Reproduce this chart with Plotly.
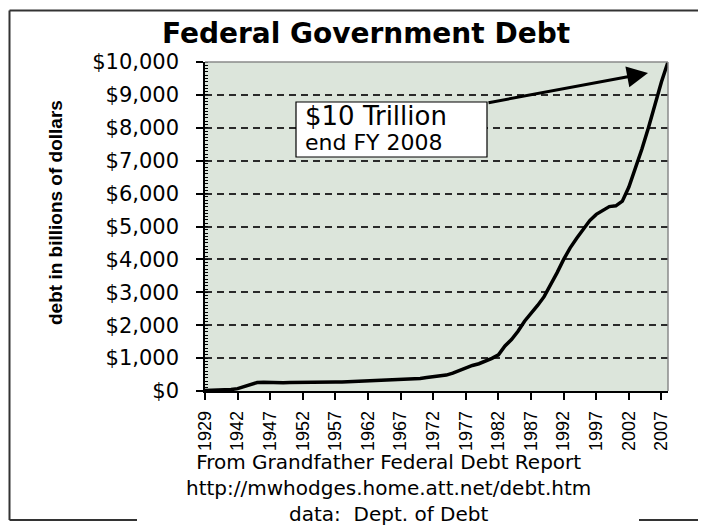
import plotly.graph_objects as go

# ---- data (billions of dollars) ----
years = ["1929", "1932", "1935", "1938", "1940"] + [str(y) for y in range(1942, 2009)]
debt = [17, 20, 29, 37, 43,
        72, 137, 201, 259, 269, 258, 252, 252, 256, 255,          # 1942-1951
        259, 266, 271, 274, 273, 271, 276, 285, 290, 292,         # 1952-1961
        302, 310, 316, 322, 328, 340, 368, 365, 381, 408,         # 1962-1971
        436, 466, 484, 542, 629, 706, 776, 829, 909, 994,         # 1972-1981
        1100, 1371, 1564, 1817, 2120, 2345, 2601, 2867, 3206, 3598,  # 1982-1991
        4001, 4351, 4643, 4920, 5181, 5369, 5478, 5605, 5628, 5769,  # 1992-2001
        6198, 6760, 7354, 8000, 8700, 9400, 10000]                 # 2002-2008
tick_years = ["1929", "1942", "1947", "1952", "1957", "1962", "1967", "1972",
              "1977", "1982", "1987", "1992", "1997", "2002", "2007"]

title_text = "Federal Government Debt"
y_title = "debt in billions of dollars"
note_line1 = "$10 Trillion"
note_line2 = "end FY 2008"
footer = ["From Grandfather Federal Debt Report",
          "http://mwhodges.home.att.net/debt.htm",
          "data:  Dept. of Debt"]

# page offset of the plot div (browser body margin)
OFF = 8
W, H = 706 - OFF, 527 - OFF
# plot area in page pixels: x 205..668, y 62..391
L = 205 - OFF
T = 62 - OFF
R = W - (668 - OFF)
B = H - (391 - OFF)
PW, PH = W - L - R, H - T - B


def px(xp):
    """page x pixel -> paper x"""
    return (xp - OFF - L) / PW


def py(yp):
    """page y pixel -> paper y"""
    return (H - B - (yp - OFF)) / PH


fig = go.Figure()
fig.add_trace(go.Scatter(x=years, y=debt, mode="lines",
                         line=dict(color="black", width=3.5),
                         hoverinfo="x+y", showlegend=False))

fig.update_layout(
    width=W, height=H,
    margin=dict(l=L, r=R, t=T, b=B, autoexpand=False),
    paper_bgcolor="white",
    plot_bgcolor="#DCE5DB",
    title=dict(text=title_text, xref="container", yref="container",
               x=(366 - OFF) / W, xanchor="center", y=1 - (33 - OFF) / H, yanchor="middle",
               font=dict(family="DejaVu Sans", size=28, color="black", weight="bold")),
    font=dict(family="Arial", color="black"),
    showlegend=False,
)

fig.update_xaxes(
    type="category", categoryorder="array", categoryarray=years,
    range=[0, len(years) - 1],
    tickmode="array", tickvals=tick_years, ticktext=tick_years,
    tickangle=-90, tickfont=dict(family="Arial", size=18, color="black"),
    ticks="outside", ticklen=7, tickwidth=1.5, tickcolor="black",
    ticklabelstandoff=4,
    showline=True, linecolor="black", linewidth=1.5,
    showgrid=False, zeroline=False,
)

fig.update_yaxes(
    range=[0, 10000], dtick=1000, tick0=0,
    tickprefix="$", tickformat=",d",
    tickfont=dict(family="DejaVu Sans", size=21, color="black"),
    ticks="outside", ticklen=7, tickwidth=1.5, tickcolor="black",
    ticklabelstandoff=13,
    minor=dict(ticks="inside", ticklen=3, dtick=100, tickcolor="black",
               tickwidth=1, showgrid=False),
    showline=True, linecolor="black", linewidth=1.5,
    showgrid=True, gridcolor="#2a2a2a", gridwidth=1.5, griddash="7px,5px",
    zeroline=False,
)

shapes = [
    # plot frame top/right (gray)
    dict(type="line", xref="paper", yref="paper", x0=0, x1=1, y0=1, y1=1,
         line=dict(color="#8a8a8a", width=1.5)),
    dict(type="line", xref="paper", yref="paper", x0=1, x1=1, y0=0, y1=1,
         line=dict(color="#8a8a8a", width=1.5)),
    # note box
    dict(type="rect", xref="paper", yref="paper",
         x0=px(296), x1=px(487), y0=py(157), y1=py(102),
         fillcolor="white", line=dict(color="black", width=1.2), layer="above"),
    # outer chart frame
    dict(type="line", xref="paper", yref="paper", x0=px(9.5), x1=px(730), y0=py(10.5), y1=py(10.5),
         line=dict(color="#333333", width=2)),
    dict(type="line", xref="paper", yref="paper", x0=px(9.5), x1=px(9.5), y0=py(10.5), y1=py(520),
         line=dict(color="#333333", width=2)),
    dict(type="line", xref="paper", yref="paper", x0=px(9.5), x1=px(137), y0=py(520), y1=py(520),
         line=dict(color="#333333", width=2)),
    dict(type="line", xref="paper", yref="paper", x0=px(639), x1=px(730), y0=py(520), y1=py(520),
         line=dict(color="#333333", width=2)),
]
fig.update_layout(shapes=shapes)

annotations = [
    dict(text=note_line1, xref="paper", yref="paper", x=px(303), y=py(116),
         xanchor="left", yanchor="middle", showarrow=False,
         font=dict(family="DejaVu Sans", size=26, color="black")),
    dict(text=note_line2, xref="paper", yref="paper", x=px(303), y=py(142),
         xanchor="left", yanchor="middle", showarrow=False,
         font=dict(family="DejaVu Sans", size=22, color="black")),
    # arrow to the $10 trillion point
    dict(text="", xref="paper", yref="paper", x=px(648), y=py(73),
         ax=487 - 648, ay=103 - 73, showarrow=True,
         arrowhead=2, arrowsize=1.4, arrowwidth=3, arrowcolor="black"),
    # y axis title
    dict(text=y_title, xref="paper", yref="paper", x=px(55), y=py(213),
         textangle=-90, showarrow=False, xanchor="center", yanchor="middle",
         font=dict(family="Arial", size=19, color="black", weight="bold")),
    # footer (three centred lines)
    dict(text="<br>".join(footer), xref="paper", yref="paper", x=px(388), y=py(526.5),
         xanchor="center", yanchor="bottom", align="center", showarrow=False,
         borderpad=0,
         font=dict(family="DejaVu Sans", size=20, color="black")),
]
fig.update_layout(annotations=annotations)

fig.write_html("out.html")
